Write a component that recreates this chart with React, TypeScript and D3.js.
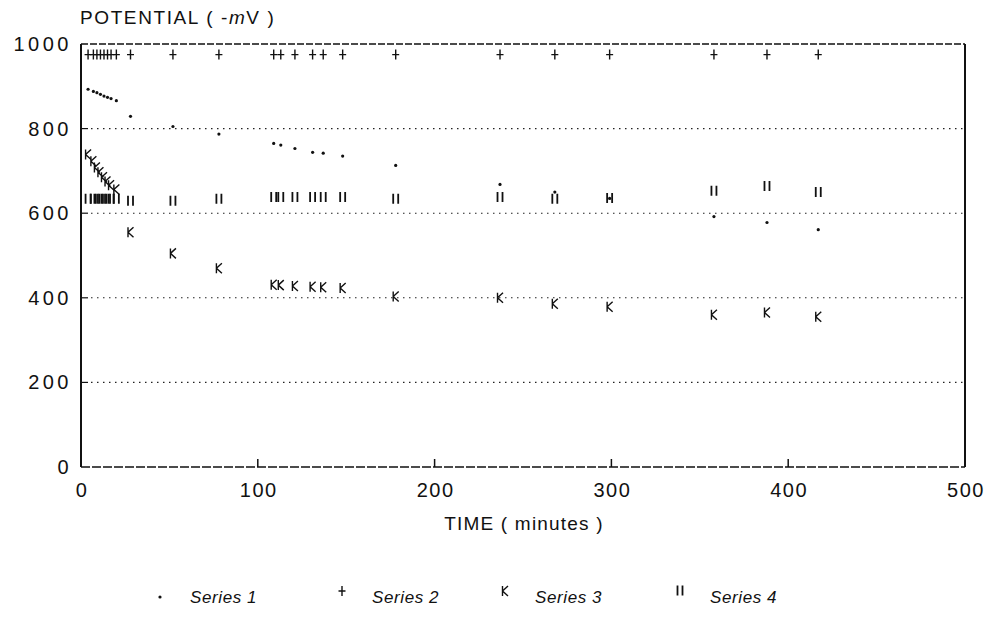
import React from "react";
import * as d3 from "d3";

const times = [4, 7, 9, 11, 13, 15, 17, 20, 28, 52, 78, 109, 113, 121, 131, 137, 148, 178, 237, 268, 299, 358, 388, 417];
const series1 = [893, 888, 885, 881, 877, 874, 871, 866, 829, 805, 787, 765, 761, 753, 744, 742, 735, 713, 668, 650, 635, 592, 578, 561];
const series2 = [975, 975, 975, 975, 975, 975, 975, 975, 975, 975, 975, 975, 975, 975, 975, 975, 975, 975, 975, 975, 975, 975, 975, 975];
const series3 = [739, 723, 708, 697, 685, 675, 666, 656, 555, 505, 470, 431, 430, 428, 426, 425, 423, 403, 400, 386, 379, 360, 365, 355];
const series4 = [633, 633, 633, 633, 633, 633, 633, 633, 628, 628, 633, 637, 637, 637, 637, 637, 637, 633, 637, 633, 635, 652, 663, 649];

const xTicks = [0, 100, 200, 300, 400, 500];
const yTicks = [0, 200, 400, 600, 800, 1000];
const legendLabels = ["Series 1", "Series 2", "Series 3", "Series 4"];

const W = 993;
const H = 618;

const x = d3.scaleLinear().domain([0, 500]).range([81, 965]);
const y = d3.scaleLinear().domain([0, 1000]).range([467, 44]);

const FONT = "'Liberation Sans', Arial, sans-serif";

function Marker({ kind, cx, cy }: { kind: number; cx: number; cy: number }) {
  const t = `translate(${cx},${cy})`;
  if (kind === 0) return <circle cx={cx} cy={cy} r={1.6} fill="#111" />;
  if (kind === 1)
    return <path transform={t} d="M0,-5V5M-3.5,0H3.5" stroke="#111" strokeWidth={1.4} fill="none" />;
  if (kind === 2)
    return <path transform={t} d="M-2.5,-5V5M-2.5,0L3,-5M-2.5,0L3,5" stroke="#111" strokeWidth={1.4} fill="none" />;
  return <path transform={t} d="M-2.5,-5.5V4.5M2.5,-5.5V4.5" stroke="#111" strokeWidth={1.8} fill="none" />;
}

export default function App() {
  const all = [series1, series2, series3, series4];
  const legendX = [160, 342, 505, 680];
  return (
    <svg width={W} height={H} style={{ position: "absolute", left: 0, top: 0, background: "#fff" }}>
      {/* title */}
      <text x={80} y={24} fontFamily={FONT} fontSize={19} letterSpacing={1.6} fill="#111">
        POTENTIAL ( -<tspan fontStyle="italic">m</tspan>V )
      </text>

      {/* grid lines */}
      {yTicks.filter((v) => v > 0 && v < 1000).map((v) => (
        <g key={"g" + v}>
          <line x1={x(0)} x2={x(0) + 7} y1={y(v)} y2={y(v)} stroke="#111" strokeWidth={1.2} />
          <line x1={x(0) + 10} x2={x(500)} y1={y(v)} y2={y(v)} stroke="#222" strokeWidth={1.1} strokeDasharray="1.5,4.5" />
        </g>
      ))}

      {/* frame */}
      <line x1={x(0)} x2={x(500)} y1={y(1000)} y2={y(1000)} stroke="#111" strokeWidth={1.5} strokeDasharray="7,2" />
      <line x1={x(0)} x2={x(500)} y1={y(0)} y2={y(0)} stroke="#111" strokeWidth={1.3} strokeDasharray="9,2" />
      <line x1={x(0)} x2={x(0)} y1={y(1000)} y2={y(0)} stroke="#111" strokeWidth={2} />
      <line x1={x(500)} x2={x(500)} y1={y(1000)} y2={y(0)} stroke="#111" strokeWidth={2} />

      {/* x ticks */}
      {xTicks.map((v) => (
        <g key={"x" + v}>
          {v > 0 && v < 500 && <line x1={x(v)} x2={x(v)} y1={y(0)} y2={y(0) - 8} stroke="#111" strokeWidth={1.5} />}
          <text x={x(v) + 1} y={497} textAnchor="middle" fontFamily={FONT} fontSize={20} letterSpacing={1.5} fill="#111">
            {v}
          </text>
        </g>
      ))}

      {/* y ticks */}
      {yTicks.map((v) => (
        <text key={"y" + v} x={72} y={y(v) + 7} textAnchor="end" fontFamily={FONT} fontSize={20} letterSpacing={3.5} fill="#111">
          {v}
        </text>
      ))}

      <text x={524} y={530} textAnchor="middle" fontFamily={FONT} fontSize={19} letterSpacing={1.2} fill="#111">
        TIME  ( minutes )
      </text>

      {/* data */}
      {all.map((s, si) =>
        s.map((v, i) => <Marker key={si + "-" + i} kind={si} cx={x(times[i])} cy={y(v)} />)
      )}

      {/* legend */}
      {legendLabels.map((l, i) => (
        <g key={l}>
          <Marker kind={i} cx={legendX[i]} cy={i === 0 ? 597 : 591} />
          <text x={legendX[i] + 30} y={603} fontFamily={FONT} fontSize={17} fontStyle="italic" letterSpacing={0.6} fill="#111">
            {l}
          </text>
        </g>
      ))}
    </svg>
  );
}
